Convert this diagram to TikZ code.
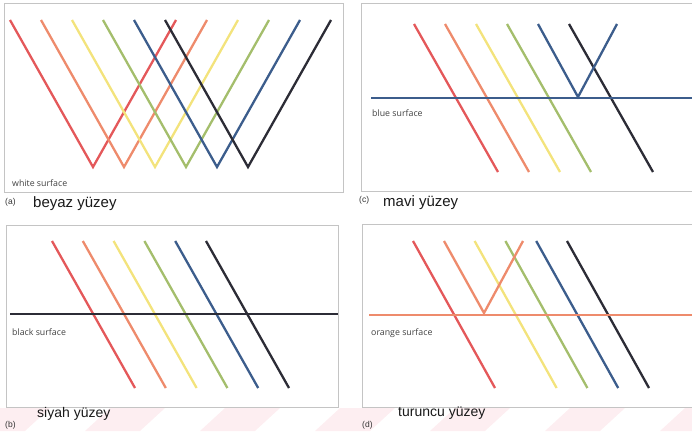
\documentclass[tikz,border=0pt]{standalone}
\usepackage{fontspec}
\setmainfont{Liberation Sans}
\newfontfamily\smallsans{Open Sans}
\definecolor{cred}{HTML}{E4585A}
\definecolor{corange}{HTML}{EE8B6C}
\definecolor{cyellow}{HTML}{F3E37C}
\definecolor{cgreen}{HTML}{A4BE6C}
\definecolor{cblue}{HTML}{3C5D8C}
\definecolor{cblack}{HTML}{2C2C36}
\definecolor{cframe}{HTML}{C4C4C4}
\definecolor{cwater}{HTML}{FDEEF1}
\begin{document}
\begin{tikzpicture}[x=1pt,y=-1pt,
  ray/.style={line width=2.3pt,line join=miter},
  surface/.style={line width=2.3pt},
  frame/.style={draw=cframe,line width=0.7pt},
  surflabel/.style={anchor=west,inner sep=0pt,font=\smallsans\fontsize{8.8}{9}\selectfont,text=black!75},
  caption/.style={anchor=west,inner sep=0pt,font=\fontsize{15}{16}\selectfont,text=black!90},
  tag/.style={anchor=west,inner sep=0pt,font=\fontsize{8.5}{9}\selectfont,text=black!80}]
\useasboundingbox (0,0) rectangle (692,431);
% watermark stripes
\foreach \s in {-30,85,200,315,430,545,660}{
  \fill[cwater] (\s,431) -- (\s+55,431) -- (\s+80,408) -- (\s+25,408) -- cycle;
}
% ---------- (a) white surface ----------
\draw[frame] (4,3) rectangle (343,192);
\foreach \i/\c in {0/cred,1/corange,2/cyellow,3/cgreen,4/cblue,5/cblack}{
  \draw[ray,\c] (10+31*\i,20) -- (93+31*\i,167) -- (176+31*\i,20);
}
\node[surflabel] (la) at (12,183) {white surface};
\node[tag] (ta) at (5,202) {(a)};
\node[caption] (ca) at (33,204) {beyaz yüzey};
% ---------- (c) blue surface ----------
\draw[frame] (700,3) -- (361,3) -- (361,191) -- (700,191);
\foreach \i/\c in {0/cred,1/corange,2/cyellow,3/cgreen,5/cblack}{
  \draw[ray,\c] (414+31*\i,24) -- (498+31*\i,172);
}
\draw[ray,cblue] (538,24) -- (578,97) -- (617,24);
\draw[surface,cblue] (371,98) -- (692,98);
\node[surflabel] (lc) at (372,113) {blue surface};
\node[tag] (tc) at (359,200) {(c)};
\node[caption] (cc) at (383,203) {mavi yüzey};
% ---------- (b) black surface ----------
\draw[frame] (6,225) rectangle (338,407);
\foreach \i/\c in {0/cred,1/corange,2/cyellow,3/cgreen,4/cblue,5/cblack}{
  \draw[ray,\c] (52+30.8*\i,241) -- (135+30.8*\i,388);
}
\draw[surface,cblack] (10,314) -- (338,314);
\node[surflabel] (lb) at (12,332) {black surface};
\node[tag] (tb) at (5,425) {(b)};
\node[caption,font=\fontsize{14}{15}\selectfont] (cb) at (37,414) {siyah yüzey};
% ---------- (d) orange surface ----------
\draw[frame] (700,224) -- (362,224) -- (362,407) -- (700,407);
\foreach \i/\c in {0/cred,2/cyellow,3/cgreen,4/cblue,5/cblack}{
  \draw[ray,\c] (413+30.8*\i,241) -- (495+30.8*\i,388);
}
\draw[ray,corange] (444,241) -- (484,313) -- (523,241);
\draw[surface,corange] (369,315) -- (692,315);
\node[surflabel] (ld) at (371,333) {orange surface};
\node[tag] (td) at (362,425) {(d)};
\node[caption,font=\fontsize{14}{15}\selectfont] (cd) at (398,413) {turuncu yüzey};
\end{tikzpicture}
\end{document}
